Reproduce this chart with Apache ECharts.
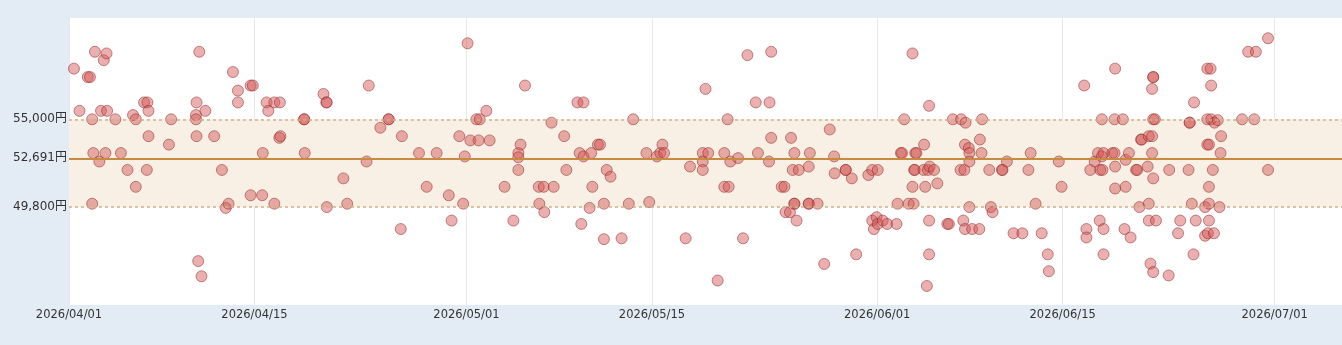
<!DOCTYPE html>
<html>
<head>
<meta charset="utf-8">
<script src="https://cdn.jsdelivr.net/npm/echarts@6/dist/echarts.min.js"></script>
<style>
  html, body { margin: 0; padding: 0; background: #e3ebf5; }
  #chart { width: 1342px; height: 345px; }
</style>
</head>
<body>
<div id="chart"></div>
<script>
"use strict";

// 価格帯 (円)
const bandLow = 49800;
const bandHigh = 55000;
const avgPrice = 52691;

const tickDates = ['2026-04-01', '2026-04-15', '2026-05-01', '2026-05-15', '2026-06-01', '2026-06-15', '2026-07-01'];
const yLabelValues = [bandLow, avgPrice, bandHigh];

// [日時, 価格]
const samples = [
    ['2026-04-01 09:00', 58000], ['2026-04-01 19:00', 55500], ['2026-04-02 10:00', 57500], ['2026-04-02 14:00', 57500],
    ['2026-04-02 18:00', 50000], ['2026-04-02 18:00', 55000], ['2026-04-02 20:00', 53000], ['2026-04-02 23:00', 59000],
    ['2026-04-03 07:00', 52500], ['2026-04-03 10:00', 55500], ['2026-04-03 15:00', 58500], ['2026-04-03 18:00', 53000],
    ['2026-04-03 20:00', 58900], ['2026-04-03 21:00', 55500], ['2026-04-04 12:00', 55000], ['2026-04-04 22:00', 53000],
    ['2026-04-05 10:00', 52000], ['2026-04-05 20:00', 55250], ['2026-04-06 01:00', 55000], ['2026-04-06 01:00', 51000],
    ['2026-04-06 16:00', 56000], ['2026-04-06 22:00', 56000], ['2026-04-06 21:00', 52000], ['2026-04-07 00:00', 55500],
    ['2026-04-07 00:00', 54000], ['2026-04-08 13:00', 53500], ['2026-04-08 17:00', 55000], ['2026-04-10 14:00', 55250],
    ['2026-04-10 14:00', 55000], ['2026-04-10 15:00', 56000], ['2026-04-10 15:00', 54000], ['2026-04-10 18:00', 46600],
    ['2026-04-10 20:00', 59000], ['2026-04-11 00:00', 45700], ['2026-04-11 07:00', 55500], ['2026-04-11 23:00', 54000],
    ['2026-04-12 13:00', 52000], ['2026-04-12 20:00', 49750], ['2026-04-13 01:00', 50000], ['2026-04-13 09:00', 57800],
    ['2026-04-13 18:00', 56700], ['2026-04-13 18:00', 56000], ['2026-04-14 17:00', 57000], ['2026-04-14 21:00', 57000],
    ['2026-04-14 17:00', 50500], ['2026-04-15 14:00', 50500], ['2026-04-15 15:00', 53000], ['2026-04-15 22:00', 56000],
    ['2026-04-16 01:00', 55500], ['2026-04-16 12:00', 56000], ['2026-04-16 12:00', 50000], ['2026-04-16 21:00', 53900],
    ['2026-04-16 23:00', 54000], ['2026-04-16 22:00', 56000], ['2026-04-18 18:00', 55000], ['2026-04-18 18:00', 55000],
    ['2026-04-18 19:00', 53000], ['2026-04-20 05:00', 56500], ['2026-04-20 10:00', 56000], ['2026-04-20 11:00', 56000],
    ['2026-04-20 11:00', 49800], ['2026-04-21 17:00', 51500], ['2026-04-22 00:00', 50000], ['2026-04-23 11:00', 52500],
    ['2026-04-23 15:00', 57000], ['2026-04-24 12:00', 54500], ['2026-04-25 03:00', 55000], ['2026-04-25 03:00', 55000],
    ['2026-04-26 01:00', 48500], ['2026-04-26 03:00', 54000], ['2026-04-27 10:00', 53000], ['2026-04-28 00:00', 51000],
    ['2026-04-28 18:00', 53000], ['2026-04-29 16:00', 50500], ['2026-04-29 21:00', 49000], ['2026-04-30 11:00', 54000],
    ['2026-04-30 18:00', 50000], ['2026-04-30 21:00', 52800], ['2026-05-01 02:00', 59500], ['2026-05-01 07:00', 53750],
    ['2026-05-01 18:00', 55000], ['2026-05-02 00:00', 55000], ['2026-05-01 22:00', 53750], ['2026-05-02 12:00', 55500],
    ['2026-05-02 18:00', 53750], ['2026-05-03 21:00', 51000], ['2026-05-04 13:00', 49000], ['2026-05-04 22:00', 53000],
    ['2026-05-04 22:00', 52750], ['2026-05-04 22:00', 52000], ['2026-05-05 02:00', 53500], ['2026-05-05 10:00', 57000],
    ['2026-05-06 11:00', 51000], ['2026-05-06 12:00', 50000], ['2026-05-06 20:00', 51000], ['2026-05-06 21:00', 49500],
    ['2026-05-07 10:00', 54800], ['2026-05-07 14:00', 51000], ['2026-05-08 09:00', 54000], ['2026-05-08 13:00', 52000],
    ['2026-05-09 09:00', 56000], ['2026-05-09 13:00', 53000], ['2026-05-09 16:00', 48800], ['2026-05-09 20:00', 56000],
    ['2026-05-09 20:00', 52800], ['2026-05-10 07:00', 49750], ['2026-05-10 10:00', 53000], ['2026-05-10 12:00', 51000],
    ['2026-05-10 22:00', 53500], ['2026-05-11 02:00', 53500], ['2026-05-11 09:00', 50000], ['2026-05-11 09:00', 47900],
    ['2026-05-11 14:00', 52000], ['2026-05-11 21:00', 51600], ['2026-05-12 17:00', 47950], ['2026-05-13 06:00', 50000],
    ['2026-05-13 14:00', 55000], ['2026-05-14 14:00', 53000], ['2026-05-14 19:00', 50100], ['2026-05-15 09:00', 52800],
    ['2026-05-15 15:00', 53000], ['2026-05-15 19:00', 53500], ['2026-05-15 22:00', 53000], ['2026-05-17 13:00', 47950],
    ['2026-05-17 21:00', 52200], ['2026-05-18 20:00', 53000], ['2026-05-18 20:00', 52500], ['2026-05-18 20:00', 52000],
    ['2026-05-19 01:00', 56800], ['2026-05-19 06:00', 53000], ['2026-05-19 23:00', 45450], ['2026-05-20 11:00', 53000],
    ['2026-05-20 11:00', 51000], ['2026-05-20 17:00', 55000], ['2026-05-20 19:00', 51000], ['2026-05-20 22:00', 52500],
    ['2026-05-21 12:00', 52700], ['2026-05-21 21:00', 47950], ['2026-05-22 05:00', 58800], ['2026-05-22 20:00', 56000],
    ['2026-05-23 00:00', 53000], ['2026-05-23 20:00', 52500], ['2026-05-23 21:00', 56000], ['2026-05-24 00:00', 59000],
    ['2026-05-24 00:00', 53900], ['2026-05-24 19:00', 51000], ['2026-05-25 00:00', 51000], ['2026-05-25 02:00', 49500],
    ['2026-05-25 10:00', 49500], ['2026-05-25 12:00', 53900], ['2026-05-25 15:00', 52000], ['2026-05-25 18:00', 53000],
    ['2026-05-25 18:00', 50000], ['2026-05-25 18:00', 50000], ['2026-05-25 22:00', 49000], ['2026-05-26 02:00', 52000],
    ['2026-05-26 20:00', 52200], ['2026-05-26 20:00', 50000], ['2026-05-26 20:00', 50000], ['2026-05-26 22:00', 53000],
    ['2026-05-27 12:00', 50000], ['2026-05-28 00:00', 46430], ['2026-05-28 10:00', 54400], ['2026-05-28 18:00', 52800],
    ['2026-05-28 19:00', 51800], ['2026-05-29 15:00', 52000], ['2026-05-29 15:00', 52000], ['2026-05-30 02:00', 51500],
    ['2026-05-30 10:00', 47000], ['2026-05-31 08:00', 51700], ['2026-05-31 15:00', 52000], ['2026-06-01 01:00', 52000],
    ['2026-05-31 15:00', 49000], ['2026-05-31 23:00', 49200], ['2026-05-31 18:00', 48500], ['2026-06-01 01:00', 48800],
    ['2026-06-01 10:00', 49000], ['2026-06-01 18:00', 48800], ['2026-06-02 11:00', 48800], ['2026-06-02 13:00', 50000],
    ['2026-06-02 19:00', 53000], ['2026-06-02 21:00', 53000], ['2026-06-03 01:00', 55000], ['2026-06-03 09:00', 50000],
    ['2026-06-03 16:00', 58900], ['2026-06-03 18:00', 50000], ['2026-06-03 16:00', 51000], ['2026-06-03 19:00', 52000],
    ['2026-06-03 21:00', 53000], ['2026-06-03 23:00', 53000], ['2026-06-03 20:00', 52000], ['2026-06-04 12:00', 52000],
    ['2026-06-04 13:00', 53500], ['2026-06-04 15:00', 51000], ['2026-06-04 18:00', 45130], ['2026-06-04 20:00', 52000],
    ['2026-06-04 22:00', 55800], ['2026-06-04 23:00', 52200], ['2026-06-04 22:00', 49000], ['2026-06-04 22:00', 47000],
    ['2026-06-05 07:00', 52000], ['2026-06-05 13:00', 51200], ['2026-06-06 07:00', 48800], ['2026-06-06 10:00', 48800],
    ['2026-06-06 17:00', 55000], ['2026-06-07 07:00', 52000], ['2026-06-07 08:00', 55000], ['2026-06-07 12:00', 49000],
    ['2026-06-07 14:00', 52000], ['2026-06-07 15:00', 48500], ['2026-06-07 15:00', 53500], ['2026-06-07 16:00', 54800],
    ['2026-06-07 22:00', 53300], ['2026-06-07 23:00', 53000], ['2026-06-07 23:00', 52500], ['2026-06-07 23:00', 49800],
    ['2026-06-08 04:00', 48500], ['2026-06-08 17:00', 48500], ['2026-06-08 18:00', 53800], ['2026-06-08 21:00', 53000],
    ['2026-06-08 22:00', 55000], ['2026-06-09 11:00', 52000], ['2026-06-09 14:00', 49800], ['2026-06-09 17:00', 49500],
    ['2026-06-10 10:00', 52000], ['2026-06-10 11:00', 52000], ['2026-06-10 19:00', 52500], ['2026-06-11 07:00', 48250],
    ['2026-06-11 23:00', 48250], ['2026-06-12 10:00', 52000], ['2026-06-12 14:00', 53000], ['2026-06-12 23:00', 50000],
    ['2026-06-13 10:00', 48250], ['2026-06-13 21:00', 47000], ['2026-06-13 23:00', 46000], ['2026-06-14 17:00', 52500],
    ['2026-06-14 22:00', 51000], ['2026-06-16 15:00', 57000], ['2026-06-16 19:00', 48500], ['2026-06-16 19:00', 48000],
    ['2026-06-17 02:00', 52000], ['2026-06-17 10:00', 52500], ['2026-06-17 16:00', 53000], ['2026-06-17 19:00', 49000],
    ['2026-06-17 20:00', 52000], ['2026-06-17 23:00', 52800], ['2026-06-17 23:00', 55000], ['2026-06-18 00:00', 52000],
    ['2026-06-18 02:00', 48500], ['2026-06-18 02:00', 53000], ['2026-06-18 02:00', 47000], ['2026-06-18 18:00', 53000],
    ['2026-06-18 22:00', 53000], ['2026-06-18 22:00', 55000], ['2026-06-18 23:00', 58000], ['2026-06-18 23:00', 52200],
    ['2026-06-18 23:00', 50900], ['2026-06-19 13:00', 55000], ['2026-06-19 16:00', 48500], ['2026-06-19 18:00', 52600],
    ['2026-06-19 18:00', 51000], ['2026-06-20 00:00', 53000], ['2026-06-20 03:00', 48000], ['2026-06-20 13:00', 52000],
    ['2026-06-20 15:00', 52000], ['2026-06-20 19:00', 49800], ['2026-06-20 22:00', 53800], ['2026-06-20 23:00', 53800],
    ['2026-06-21 10:00', 52200], ['2026-06-21 12:00', 54000], ['2026-06-21 12:00', 50000], ['2026-06-21 12:00', 49000],
    ['2026-06-21 15:00', 46450], ['2026-06-21 18:00', 54000], ['2026-06-21 18:00', 53000], ['2026-06-21 18:00', 56800],
    ['2026-06-21 20:00', 57500], ['2026-06-21 20:00', 57500], ['2026-06-21 20:00', 55000], ['2026-06-21 20:00', 51500],
    ['2026-06-21 20:00', 45950], ['2026-06-21 23:00', 55000], ['2026-06-22 01:00', 49000], ['2026-06-23 00:00', 45750],
    ['2026-06-23 01:00', 52000], ['2026-06-23 17:00', 48250], ['2026-06-23 21:00', 49000], ['2026-06-24 12:00', 52000],
    ['2026-06-24 14:00', 54800], ['2026-06-24 14:00', 54800], ['2026-06-24 18:00', 50000], ['2026-06-24 21:00', 47000],
    ['2026-06-24 22:00', 56000], ['2026-06-25 01:00', 49000], ['2026-06-25 18:00', 48100], ['2026-06-25 18:00', 49800],
    ['2026-06-25 22:00', 55000], ['2026-06-25 22:00', 53500], ['2026-06-25 22:00', 58000], ['2026-06-25 23:00', 48250],
    ['2026-06-26 01:00', 53500], ['2026-06-26 01:00', 51000], ['2026-06-26 01:00', 50000], ['2026-06-26 01:00', 49000],
    ['2026-06-26 04:00', 58000], ['2026-06-26 05:00', 57000], ['2026-06-26 05:00', 55000], ['2026-06-26 08:00', 52000],
    ['2026-06-26 10:00', 48250], ['2026-06-26 11:00', 54800], ['2026-06-26 17:00', 54950], ['2026-06-26 20:00', 49800],
    ['2026-06-26 22:00', 53000], ['2026-06-26 23:00', 54000], ['2026-06-28 13:00', 55000], ['2026-06-29 00:00', 59000],
    ['2026-06-29 11:00', 55000], ['2026-06-29 14:00', 59000], ['2026-06-30 12:00', 59800], ['2026-06-30 12:00', 52000]
];

let myChart = echarts.init(document.getElementById('chart'));

function yen(v) {
    return v.toLocaleString('ja-JP') + '円';
}

let option = {
    backgroundColor: '#e3ebf5',
    animation: false,
    grid: {
        left: 69,
        right: 0,
        top: 18,
        bottom: 40,
        show: true,
        backgroundColor: '#ffffff',
        borderWidth: 0
    },
    xAxis: {
        type: 'time',
        min: '2026-04-01 00:00',
        max: '2026-07-06 02:00',
        axisLine: { show: false },
        axisTick: { show: false, customValues: tickDates },
        axisLabel: {
            customValues: tickDates,
            formatter: '{yyyy}/{MM}/{dd}',
            color: '#333',
            fontSize: 11.5,
            fontFamily: 'DejaVu Sans',
            margin: 4,
            hideOverlap: false
        },
        splitLine: {
            show: true,
            lineStyle: { color: '#e8e8e8', width: 1 }
        }
    },
    yAxis: {
        type: 'value',
        min: 44000,
        max: 61000,
        axisLine: { show: false },
        axisTick: { show: false, customValues: yLabelValues },
        splitLine: { show: false },
        axisLabel: {
            customValues: yLabelValues,
            formatter: yen,
            color: '#333',
            fontSize: 12,
            fontFamily: 'DejaVu Sans, Noto Sans CJK JP',
            margin: 2
        }
    },
    series: [
        {
            // 価格帯と平均線
            type: 'line',
            data: [],
            silent: true,
            z: 1,
            markArea: {
                silent: true,
                itemStyle: { color: '#f8f0e5' },
                data: [[{ yAxis: bandLow }, { yAxis: bandHigh }]]
            },
            markLine: {
                silent: true,
                symbol: 'none',
                label: { show: false },
                data: [
                    { yAxis: bandHigh, lineStyle: { color: '#d0b089', type: [3, 3], width: 1.5 } },
                    { yAxis: bandLow, lineStyle: { color: '#d0b089', type: [3, 3], width: 1.5 } },
                    { yAxis: avgPrice, lineStyle: { color: '#c78a3e', type: 'solid', width: 2 } }
                ]
            }
        },
        {
            type: 'scatter',
            z: 3,
            symbolSize: 11,
            data: samples,
            itemStyle: {
                color: 'rgba(212, 82, 82, 0.58)',
                borderColor: 'rgba(140, 40, 40, 0.65)',
                borderWidth: 1
            }
        }
    ]
};

myChart.setOption(option);

window.addEventListener('resize', function () {
    myChart.resize();
});
</script>
</body>
</html>
